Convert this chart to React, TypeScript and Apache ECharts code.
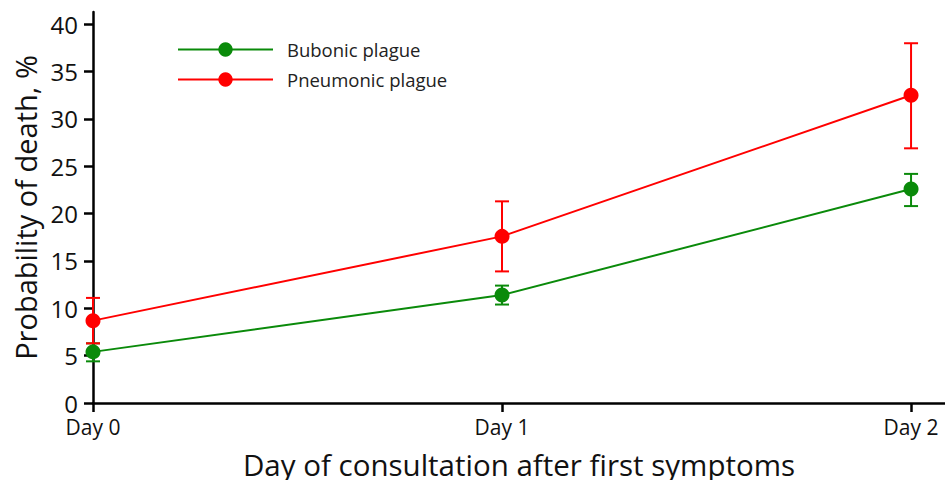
import React, { useEffect, useRef } from "react";
import * as echarts from "echarts";

const days = [0, 1, 2];
const dayLabels = ["Day 0", "Day 1", "Day 2"];
const bubonic = [5.4, 11.4, 22.6];
const bubonicLow = [4.4, 10.4, 20.8];
const bubonicHigh = [6.3, 12.4, 24.2];
const pneumonic = [8.7, 17.6, 32.5];
const pneumonicLow = [6.3, 13.9, 26.9];
const pneumonicHigh = [11.1, 21.3, 38.0];

const GREEN = "#0a8a0a";
const RED = "#ff0000";
const FONT = "Open Sans";

function errSeries(name: string, low: number[], high: number[], color: string) {
  return {
    type: "custom",
    name: name + " err",
    silent: true,
    z: 3,
    data: days.map((d, i) => [d, low[i], high[i]]),
    encode: { x: 0, y: [1, 2] },
    renderItem: (params: any, api: any) => {
      const x = api.value(0);
      const p1 = api.coord([x, api.value(1)]);
      const p2 = api.coord([x, api.value(2)]);
      const hw = 7;
      const style = { stroke: color, lineWidth: 2, fill: "none" };
      return {
        type: "group",
        children: [
          { type: "line", shape: { x1: p1[0], y1: p1[1], x2: p2[0], y2: p2[1] }, style },
          { type: "line", shape: { x1: p1[0] - hw, y1: p1[1], x2: p1[0] + hw, y2: p1[1] }, style },
          { type: "line", shape: { x1: p2[0] - hw, y1: p2[1], x2: p2[0] + hw, y2: p2[1] }, style },
        ],
      };
    },
  };
}

export default function App() {
  const ref = useRef<HTMLDivElement>(null);
  useEffect(() => {
    if (!ref.current) return;
    const chart = echarts.init(ref.current, null, { renderer: "svg" });
    chart.setOption({
      animation: false,
      backgroundColor: "#ffffff",
      textStyle: { fontFamily: FONT },
      grid: { left: 93, right: 0, top: 12, bottom: 77, containLabel: false, outerBoundsMode: "none" },
      legend: {
        orient: "vertical",
        left: 177,
        top: 40,
        padding: 0,
        itemWidth: 95,
        itemHeight: 18,
        itemGap: 11,
        textStyle: { fontSize: 18.5, lineHeight: 18, color: "#222", fontFamily: FONT, padding: [0, 0, 0, 9] },
        data: ["Bubonic plague", "Pneumonic plague"],
      },
      xAxis: {
        type: "value",
        min: 0,
        max: 2.083,
        interval: 1,
        splitLine: { show: false },
        axisLine: { onZero: false, lineStyle: { color: "#000", width: 2.5 } },
        axisTick: { length: 9, lineStyle: { color: "#000", width: 2.5 } },
        axisLabel: {
          fontSize: 21,
          color: "#111",
          margin: 13,
          showMaxLabel: false,
          formatter: (v: number) => (Number.isInteger(v) && days.includes(v) ? dayLabels[v] : ""),
        },
        name: "Day of consultation after first symptoms",
        nameLocation: "middle",
        nameGap: 46,
        nameTextStyle: { fontSize: 29.5, color: "#111" },
      },
      yAxis: {
        type: "value",
        min: 0,
        max: 41.3,
        interval: 5,
        splitLine: { show: false },
        axisLine: { show: true, lineStyle: { color: "#000", width: 2.5 } },
        axisTick: { show: true, length: 9, lineStyle: { color: "#000", width: 2.5 } },
        axisLabel: {
          fontSize: 24,
          color: "#111",
          margin: 15,
          showMaxLabel: false,
          formatter: (v: number) => (v % 5 === 0 ? String(v) : ""),
        },
        name: "Probability of death, %",
        nameLocation: "middle",
        nameGap: 53,
        nameRotate: 90,
        nameTextStyle: { fontSize: 29, color: "#111" },
      },
      series: [
        errSeries("Bubonic plague", bubonicLow, bubonicHigh, GREEN),
        errSeries("Pneumonic plague", pneumonicLow, pneumonicHigh, RED),
        {
          type: "line",
          name: "Bubonic plague",
          data: days.map((d, i) => [d, bubonic[i]]),
          symbol: "circle",
          symbolSize: 15,
          itemStyle: { color: GREEN },
          lineStyle: { color: GREEN, width: 2 },
          z: 4,
        },
        {
          type: "line",
          name: "Pneumonic plague",
          data: days.map((d, i) => [d, pneumonic[i]]),
          symbol: "circle",
          symbolSize: 15,
          itemStyle: { color: RED },
          lineStyle: { color: RED, width: 2 },
          z: 5,
        },
      ],
    });
    return () => chart.dispose();
  }, []);
  return (
    <div
      ref={ref}
      style={{ position: "fixed", left: 0, top: 0, width: 945, height: 480 }}
    />
  );
}
